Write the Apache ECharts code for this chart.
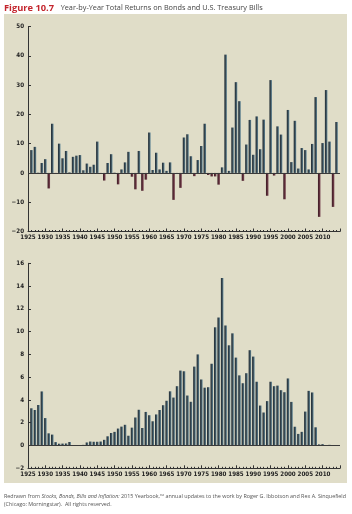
<!DOCTYPE html>
<html>
<head>
<meta charset="utf-8">
<script src="https://cdn.jsdelivr.net/npm/echarts@6/dist/echarts.min.js"></script>
<style>
  html, body { margin: 0; padding: 0; background: #fff; }
  #chart { width: 352px; height: 514px; }
</style>
</head>
<body>
<div id="chart"></div>
<script>
// years 1926-2014
var firstYear = 1926;
// total returns on long-term government bonds, % per year
var bondReturns = [
  7.8, 8.9, 0.1, 3.4, 4.7, -5.3, 16.8, -0.1, 10.0, 5.0,
  7.5, 0.2, 5.5, 5.9, 6.1, 0.9, 3.2, 2.1, 2.8, 10.7,
  -0.1, -2.6, 3.4, 6.4, 0.1, -3.9, 1.2, 3.6, 7.2, -1.3,
  -5.6, 7.5, -6.1, -2.3, 13.8, 1.0, 6.9, 1.2, 3.5, 0.7,
  3.6, -9.2, -0.3, -5.1, 12.1, 13.2, 5.7, -1.1, 4.4, 9.2,
  16.8, -0.7, -1.2, -1.2, -4.0, 1.9, 40.4, 0.7, 15.5, 31.0,
  24.5, -2.7, 9.7, 18.1, 6.2, 19.3, 8.1, 18.2, -7.8, 31.7,
  -0.9, 15.9, 13.1, -9.0, 21.5, 3.7, 17.8, 1.5, 8.5, 7.8,
  1.2, 9.9, 25.9, -15.0, 10.2, 28.3, 10.7, -11.6, 17.4
];
// total returns on U.S. Treasury bills, % per year
var billReturns = [
  3.27, 3.12, 3.56, 4.75, 2.41, 1.07, 0.96, 0.30, 0.16, 0.17,
  0.18, 0.31, -0.02, 0.02, 0.00, 0.06, 0.27, 0.35, 0.33, 0.33,
  0.35, 0.50, 0.81, 1.10, 1.20, 1.49, 1.66, 1.82, 0.86, 1.57,
  2.46, 3.14, 1.54, 2.95, 2.66, 2.13, 2.73, 3.12, 3.54, 3.93,
  4.76, 4.21, 5.21, 6.58, 6.52, 4.39, 3.84, 6.93, 8.00, 5.80,
  5.08, 5.12, 7.18, 10.38, 11.24, 14.71, 10.54, 8.80, 9.85, 7.72,
  6.16, 5.47, 6.35, 8.37, 7.81, 5.60, 3.51, 2.90, 3.90, 5.60,
  5.21, 5.26, 4.86, 4.68, 5.89, 3.83, 1.65, 1.02, 1.20, 2.98,
  4.80, 4.66, 1.60, 0.10, 0.12, 0.04, 0.06, 0.02, 0.02
];

var posColor = new echarts.graphic.LinearGradient(0, 0, 1, 0, [
  { offset: 0, color: '#222c34' },
  { offset: 0.45, color: '#34454f' },
  { offset: 1, color: '#5f8596' }
]);
var negColor = new echarts.graphic.LinearGradient(0, 0, 1, 0, [
  { offset: 0, color: '#3a1c24' },
  { offset: 0.5, color: '#5a2a36' },
  { offset: 1, color: '#7c4a56' }
]);

function toData(values) {
  return values.map(function (v, i) {
    return {
      value: [firstYear + i, v],
      itemStyle: { color: v < 0 ? negColor : posColor }
    };
  });
}

var axisFont = "'DejaVu Sans Condensed', 'Liberation Sans Narrow', sans-serif";

function xAxisFor(gridIndex) {
  return {
    type: 'value',
    gridIndex: gridIndex,
    min: 1925,
    max: 2015,
    interval: 5,
    axisLine: { onZero: false, lineStyle: { color: '#333', width: 1 } },
    axisTick: { inside: true, length: 3, lineStyle: { color: '#333' } },
    minorTick: { show: true, splitNumber: 5, length: 1.5, lineStyle: { color: '#333' } },
    axisLabel: {
      color: '#222', fontFamily: axisFont, fontWeight: 'bold', fontSize: 6.2, margin: 3,
      showMinLabel: true, showMaxLabel: false, hideOverlap: false,
      formatter: function (v) { return v <= 2010 ? String(v) : ''; }
    },
    splitLine: { show: false }
  };
}

function yAxisFor(gridIndex, min, max, interval) {
  return {
    type: 'value',
    gridIndex: gridIndex,
    min: min,
    max: max,
    interval: interval,
    axisLine: { show: true, lineStyle: { color: '#333', width: 1 } },
    axisTick: { show: true, inside: true, length: 3, lineStyle: { color: '#333' } },
    axisLabel: {
      color: '#222', fontFamily: axisFont, fontWeight: 'bold', fontSize: 6.2, margin: 4,
      formatter: function (v) { return v < 0 ? '\u2212' + Math.abs(v) : String(v); }
    },
    splitLine: { show: false }
  };
}

var zeroLine = {
  silent: true,
  symbol: 'none',
  label: { show: false },
  lineStyle: { color: '#3a3a3a', width: 1.2, type: 'solid' },
  data: [{ yAxis: 0 }]
};

var myChart = echarts.init(document.getElementById('chart'));

var option = {
  animation: false,
  backgroundColor: '#ffffff',
  graphic: [
    {
      type: 'rect', z: -10, silent: true,
      shape: { x: 4, y: 14, width: 343, height: 469 },
      style: { fill: '#e0ddc8' }
    },
    {
      type: 'text', left: 4, top: 2,
      style: {
        text: '{f|Figure 10.7}  {t|Year-by-Year Total Returns on Bonds and U.S. Treasury Bills}',
        rich: {
          f: { fontFamily: "'Open Sans', sans-serif", fontWeight: 'bold', fontSize: 9.3, fill: '#c4262e' },
          t: { fontFamily: "'Open Sans', sans-serif", fontSize: 7.3, fill: '#444' }
        }
      }
    },
    {
      type: 'text', left: 4, top: 494,
      style: {
        text: '{r|Redrawn from }{i|Stocks, Bonds, Bills and Inflation:}{r| 2015 Yearbook,\u2122 annual updates to the work by Roger G. Ibbotson and Rex A. Sinquefield}\n{r|(Chicago: Morningstar).  All rights reserved.}',
        rich: {
          r: { fontFamily: "'Open Sans', sans-serif", fontSize: 5.4, fill: '#555', lineHeight: 8 },
          i: { fontFamily: "'Open Sans', sans-serif", fontStyle: 'italic', fontSize: 5.4, fill: '#555', lineHeight: 8 }
        }
      }
    }
  ],
  grid: [
    { left: 28, top: 26.5, width: 312, height: 205 },
    { left: 28, top: 263.3, width: 312, height: 205 }
  ],
  xAxis: [xAxisFor(0), xAxisFor(1)],
  yAxis: [yAxisFor(0, -20, 50, 10), yAxisFor(1, -2, 16, 2)],
  series: [
    {
      name: 'Bonds',
      type: 'bar',
      xAxisIndex: 0,
      yAxisIndex: 0,
      barWidth: 2.5,
      data: toData(bondReturns),
      markLine: zeroLine
    },
    {
      name: 'Treasury Bills',
      type: 'bar',
      xAxisIndex: 1,
      yAxisIndex: 1,
      barWidth: 2.5,
      data: toData(billReturns),
      markLine: zeroLine
    }
  ]
};

myChart.setOption(option);
</script>
</body>
</html>
